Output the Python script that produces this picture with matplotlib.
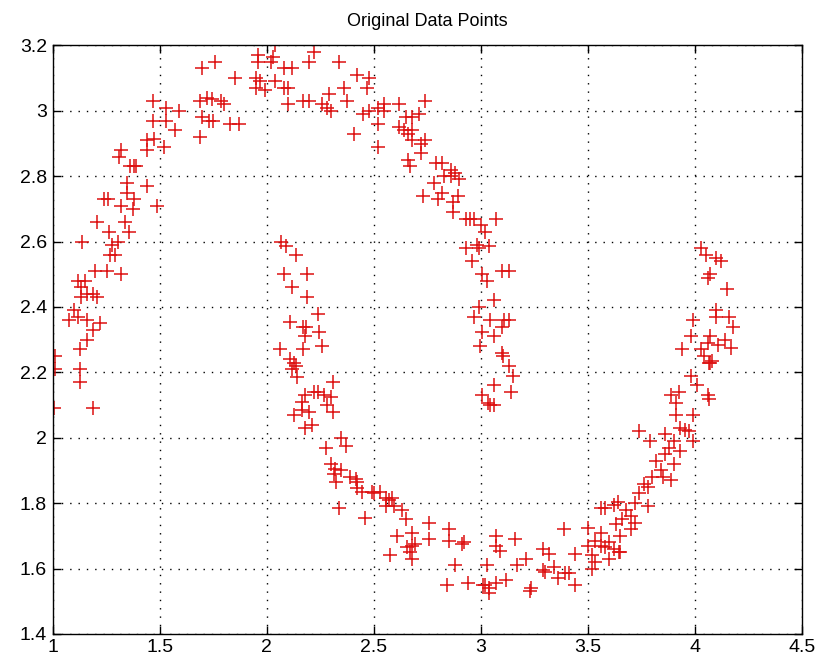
import matplotlib
matplotlib.use("Agg")
import matplotlib.pyplot as plt

# ---------- data: upper (left) moon ----------
upper_x = [
    1.27, 1.29, 1.255, 1.20, 1.32, 1.12, 1.15, 1.135, 1.16, 1.19, 1.21, 1.135,
    1.10, 1.075, 1.12, 1.16, 1.22, 1.19, 1.16, 1.13, 1.01, 1.01, 1.13, 1.13,
    1.005, 1.19,
    1.70, 1.76, 1.85, 1.47, 1.53, 1.59, 1.47, 1.53, 1.57, 1.52, 1.44, 1.475,
    1.44, 1.32, 1.31, 1.36, 1.39, 1.38, 1.44, 1.35, 1.35, 1.38, 1.24, 1.26,
    1.32, 1.375, 1.49, 1.21, 1.34, 1.265, 1.355, 1.305, 1.14, 1.28, 1.69, 1.72,
    1.745, 1.785, 1.80, 1.70, 1.73, 1.75, 1.83, 1.87, 1.69,
    2.04, 2.03, 1.96, 1.96, 2.02, 2.22, 2.20, 2.34, 2.08, 2.12, 1.95, 1.97,
    1.95, 1.99, 2.04, 2.08, 2.10, 2.42, 2.48, 2.47, 2.29, 2.36, 2.10, 2.17,
    2.20, 2.26, 2.28, 2.30, 2.375, 2.45, 2.48, 2.52, 2.55, 2.62, 2.74, 2.55,
    2.52, 2.41, 2.52, 2.65, 2.68, 2.71, 2.62, 2.64, 2.68, 2.66, 2.68, 2.72,
    2.74, 2.72, 2.66, 2.67, 2.73,
    2.79, 2.82, 2.86, 2.88, 2.86, 2.83, 2.90, 2.78, 2.82, 2.80, 2.895, 2.87,
    2.87, 2.93, 2.95, 2.97, 3.07, 3.00, 3.02, 2.93, 2.98, 3.04,
    2.99, 2.96, 3.10, 3.13, 3.005, 3.03, 3.06, 2.99, 2.97, 3.045, 3.11, 3.13,
    3.10, 3.005, 3.06, 2.995, 3.10, 3.105, 3.13, 3.15, 3.06, 3.14, 3.005,
    3.035, 3.06, 3.045,
]
upper_y = [
    2.56, 2.56, 2.51, 2.51, 2.50, 2.48, 2.48, 2.46, 2.44, 2.44, 2.43, 2.43,
    2.39, 2.36, 2.37, 2.36, 2.35, 2.33, 2.30, 2.27, 2.25, 2.21, 2.21, 2.17,
    2.09, 2.09,
    3.13, 3.15, 3.10, 3.03, 3.01, 3.00, 2.97, 2.97, 2.94, 2.89, 2.91, 2.915,
    2.88, 2.88, 2.86, 2.83, 2.83, 2.83, 2.77, 2.78, 2.75, 2.73, 2.73, 2.73,
    2.71, 2.70, 2.71, 2.66, 2.66, 2.63, 2.63, 2.60, 2.60, 2.59, 3.03, 3.04,
    3.035, 3.03, 3.02, 2.98, 2.97, 2.97, 2.96, 2.96, 2.92,
    3.20, 3.165, 3.17, 3.15, 3.15, 3.18, 3.15, 3.15, 3.13, 3.13, 3.10, 3.09,
    3.07, 3.065, 3.09, 3.07, 3.07, 3.11, 3.10, 3.07, 3.05, 3.07, 3.02, 3.03,
    3.03, 3.02, 3.01, 3.00, 3.03, 2.99, 3.00, 3.01, 3.02, 3.02, 3.03, 3.00,
    2.96, 2.93, 2.89, 2.98, 2.98, 2.99, 2.95, 2.94, 2.94, 2.93, 2.91, 2.90,
    2.91, 2.87, 2.85, 2.83, 2.74,
    2.84, 2.84, 2.82, 2.81, 2.80, 2.80, 2.79, 2.78, 2.75, 2.73, 2.74, 2.72,
    2.69, 2.67, 2.67, 2.67, 2.67, 2.65, 2.63, 2.58, 2.59, 2.585,
    2.58, 2.54, 2.51, 2.51, 2.50, 2.48, 2.42, 2.40, 2.37, 2.36, 2.36, 2.36,
    2.34, 2.325, 2.31, 2.28, 2.26, 2.25, 2.22, 2.19, 2.16, 2.14, 2.13,
    2.105, 2.10, 2.10,
]

# ---------- data: lower (right) moon ----------
lower_x = [
    2.065, 2.09, 2.135, 2.08, 2.19, 2.12, 2.19, 2.24, 2.11, 2.17, 2.185, 2.18,
    2.245, 2.26, 2.06, 2.17, 2.11, 2.13, 2.135, 2.12, 2.14, 2.31, 2.22, 2.24,
    2.27, 2.18, 2.30, 2.165, 2.28, 2.31, 2.13, 2.165, 2.20, 2.18, 2.21, 2.345,
    2.37, 2.275,
    2.30, 2.32, 2.345, 2.315, 2.325, 2.39, 2.415, 2.42, 2.42, 2.445, 2.49,
    2.50, 2.53, 2.555, 2.57, 2.585, 2.555, 2.595, 2.63, 2.65, 2.34, 2.46,
    2.61, 2.68, 2.76, 2.76, 2.655, 2.68, 2.695, 2.67, 2.575, 2.68,
    2.85, 2.85, 2.91, 2.92, 2.88, 2.84, 2.94, 3.01, 3.02, 3.04, 3.04, 3.07,
    3.03, 3.07, 3.09, 3.07, 3.16, 3.12, 3.17, 3.21, 3.235, 3.23, 3.29, 3.32,
    3.29, 3.30, 3.34, 3.36, 3.39, 3.395, 3.41, 3.44, 3.44, 3.50, 3.50, 3.52,
    3.535, 3.52, 3.535, 3.56, 3.56, 3.58, 3.56, 3.58, 3.62, 3.64, 3.63, 3.645,
    3.60, 3.62, 3.65, 3.66, 3.68, 3.70, 3.72, 3.74, 3.76, 3.78, 3.80, 3.82,
    3.84, 3.86, 3.88, 3.90, 3.72, 3.70, 3.78, 3.85, 3.90, 3.93, 3.89, 3.60,
    3.65,
    4.03, 4.05, 4.10, 4.12, 4.07, 4.06, 4.15, 4.10, 4.10, 4.16, 3.99, 4.18,
    3.98, 4.07, 4.14, 4.06, 4.11, 4.17, 3.94, 4.03, 4.04, 4.065, 4.07, 4.08,
    3.98, 4.01, 4.06, 4.065, 3.89, 3.925, 3.91, 3.91, 3.99, 3.93, 3.955, 3.97,
    3.74, 3.86, 3.79, 3.99,
]
lower_y = [
    2.60, 2.585, 2.56, 2.50, 2.50, 2.46, 2.43, 2.38, 2.355, 2.34, 2.34, 2.31,
    2.325, 2.28, 2.27, 2.27, 2.24, 2.23, 2.22, 2.21, 2.185, 2.17, 2.14, 2.14,
    2.13, 2.13, 2.125, 2.11, 2.10, 2.08, 2.07, 2.085, 2.08, 2.03, 2.04, 2.00,
    1.975, 1.97,
    1.92, 1.905, 1.90, 1.89, 1.865, 1.88, 1.875, 1.865, 1.845, 1.835, 1.835,
    1.83, 1.835, 1.815, 1.81, 1.815, 1.79, 1.79, 1.78, 1.75, 1.785, 1.755,
    1.70, 1.71, 1.74, 1.69, 1.665, 1.67, 1.675, 1.65, 1.64, 1.63,
    1.72, 1.685, 1.675, 1.68, 1.61, 1.55, 1.555, 1.55, 1.55, 1.525, 1.54, 1.555,
    1.61, 1.70, 1.655, 1.67, 1.69, 1.565, 1.61, 1.63, 1.54, 1.53, 1.66, 1.645,
    1.595, 1.59, 1.605, 1.57, 1.72, 1.585, 1.585, 1.645, 1.55, 1.725, 1.67, 1.64,
    1.685, 1.60, 1.62, 1.71, 1.67, 1.665, 1.785, 1.785, 1.795, 1.805, 1.735, 1.65,
    1.68, 1.66, 1.70, 1.75, 1.78, 1.76, 1.80, 1.83, 1.86, 1.85, 1.88, 1.93,
    1.90, 1.95, 1.97, 1.99, 1.74, 1.72, 1.79, 1.88, 1.92, 1.96, 1.87, 1.63,
    1.65,
    2.58, 2.56, 2.55, 2.54, 2.50, 2.49, 2.455, 2.39, 2.37, 2.37, 2.36, 2.34,
    2.31, 2.31, 2.30, 2.29, 2.285, 2.275, 2.27, 2.27, 2.25, 2.23, 2.23, 2.235,
    2.19, 2.16, 2.13, 2.12, 2.13, 2.14, 2.105, 2.07, 2.07, 2.03, 2.025, 2.02,
    2.02, 2.01, 1.99, 1.99,
]

x_ticks = [1, 1.5, 2, 2.5, 3, 3.5, 4, 4.5]
y_ticks = [1.4, 1.6, 1.8, 2.0, 2.2, 2.4, 2.6, 2.8, 3.0, 3.2]
tick_labels_x = ["1", "1.5", "2", "2.5", "3", "3.5", "4", "4.5"]
tick_labels_y = ["1.4", "1.6", "1.8", "2", "2.2", "2.4", "2.6", "2.8", "3", "3.2"]

plt.rcParams["font.family"] = ["Liberation Sans", "DejaVu Sans"]

fig = plt.figure(figsize=(8.23, 6.68), dpi=100)
ax = fig.add_axes([0.0638, 0.051, 0.9107, 0.881])

mk = dict(linestyle="none", marker="+", markersize=10, markeredgewidth=1.1,
          color="#dd1111")
ax.plot(upper_x, upper_y, **mk)
ax.plot(lower_x, lower_y, **mk)

ax.set_xlim(1, 4.5)
ax.set_ylim(1.4, 3.2)
ax.set_xticks(x_ticks)
ax.set_xticklabels(tick_labels_x)
ax.set_yticks(y_ticks)
ax.set_yticklabels(tick_labels_y)
ax.tick_params(direction="in", length=6, width=1, top=True, right=True,
               labelsize=14, pad=4)
ax.grid(True, color="black", linestyle=(0, (1, 5)), linewidth=1)
for s in ax.spines.values():
    s.set_linewidth(1)
ax.set_title("Original Data Points", fontsize=13, pad=14)

fig.savefig("out.png", dpi=100)
